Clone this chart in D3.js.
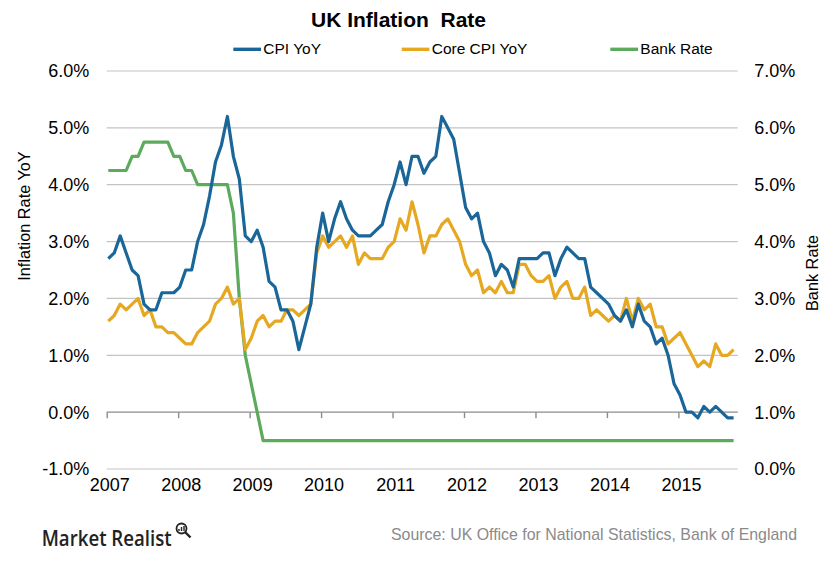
<!DOCTYPE html>
<html><head><meta charset="utf-8">
<script src="https://cdn.jsdelivr.net/npm/d3@7"></script>
<style>
body{margin:0;background:#fff}
svg text{font-family:"Liberation Sans",Arial,sans-serif}
</style>
</head><body>
<svg id="chart" width="836" height="562"></svg>
<script>
// ---- data (monthly, Jan 2007 .. Oct 2015) ----
const yearLabels = ["2007","2008","2009","2010","2011","2012","2013","2014","2015"];
const cpiYoY = [
  2.7,2.8,3.1,2.8,2.5,2.4,1.9,1.8,1.8,2.1,2.1,2.1,
  2.2,2.5,2.5,3.0,3.3,3.8,4.4,4.7,5.2,4.5,4.1,3.1,
  3.0,3.2,2.9,2.3,2.2,1.8,1.8,1.6,1.1,1.5,1.9,2.9,
  3.5,3.0,3.4,3.7,3.4,3.2,3.1,3.1,3.1,3.2,3.3,3.7,
  4.0,4.4,4.0,4.5,4.5,4.2,4.4,4.5,5.2,5.0,4.8,4.2,
  3.6,3.4,3.5,3.0,2.8,2.4,2.6,2.5,2.2,2.7,2.7,2.7,
  2.7,2.8,2.8,2.4,2.7,2.9,2.8,2.7,2.7,2.2,2.1,2.0,
  1.9,1.7,1.6,1.8,1.5,1.9,1.6,1.5,1.2,1.3,1.0,0.5,
  0.3,0.0,0.0,-0.1,0.1,0.0,0.1,0.0,-0.1,-0.1
];
const coreCpiYoY = [
  1.6,1.7,1.9,1.8,1.9,2.0,1.7,1.8,1.5,1.5,1.4,1.4,
  1.3,1.2,1.2,1.4,1.5,1.6,1.9,2.0,2.2,1.9,2.0,1.1,
  1.3,1.6,1.7,1.5,1.6,1.6,1.8,1.8,1.7,1.8,1.9,2.8,
  3.1,2.9,3.0,3.1,2.9,3.1,2.6,2.8,2.7,2.7,2.7,2.9,
  3.0,3.4,3.2,3.7,3.3,2.8,3.1,3.1,3.3,3.4,3.2,3.0,
  2.6,2.4,2.5,2.1,2.2,2.1,2.3,2.1,2.1,2.6,2.6,2.4,
  2.3,2.3,2.4,2.0,2.2,2.3,2.0,2.0,2.2,1.7,1.8,1.7,
  1.6,1.7,1.6,2.0,1.6,2.0,1.8,1.9,1.5,1.5,1.2,1.3,
  1.4,1.2,1.0,0.8,0.9,0.8,1.2,1.0,1.0,1.1
];
const bankRate = [
  5.25,5.25,5.25,5.25,5.5,5.5,5.75,5.75,5.75,5.75,5.75,5.5,
  5.5,5.25,5.25,5.0,5.0,5.0,5.0,5.0,5.0,4.5,3.0,2.0,
  1.5,1.0,0.5,0.5,0.5,0.5,0.5,0.5,0.5,0.5,0.5,0.5,
  0.5,0.5,0.5,0.5,0.5,0.5,0.5,0.5,0.5,0.5,0.5,0.5,
  0.5,0.5,0.5,0.5,0.5,0.5,0.5,0.5,0.5,0.5,0.5,0.5,
  0.5,0.5,0.5,0.5,0.5,0.5,0.5,0.5,0.5,0.5,0.5,0.5,
  0.5,0.5,0.5,0.5,0.5,0.5,0.5,0.5,0.5,0.5,0.5,0.5,
  0.5,0.5,0.5,0.5,0.5,0.5,0.5,0.5,0.5,0.5,0.5,0.5,
  0.5,0.5,0.5,0.5,0.5,0.5,0.5,0.5,0.5,0.5
];
const leftTicks = [-1,0,1,2,3,4,5,6];
const rightTicks = [0,1,2,3,4,5,6,7];
const seriesNames = ["CPI YoY","Core CPI YoY","Bank Rate"];
const seriesColors = ["#1a6699","#e6a821","#5cab5c"];

// ---- scales ----
const svg = d3.select("#chart");
const x = d3.scaleLinear().domain([0, cpiYoY.length - 1]).range([108.3, 733.6]);
const yL = d3.scaleLinear().domain([-1, 6]).range([469, 71]);
const yR = d3.scaleLinear().domain([0, 7]).range([469, 71]);
const gridX0 = x(-0.27), gridX1 = x(cpiYoY.length - 1 + 0.7);

// gridlines
svg.append("g").selectAll("line").data(leftTicks.filter(d => d !== 0)).join("line")
  .attr("x1", gridX0).attr("x2", gridX1)
  .attr("y1", d => yL(d)).attr("y2", d => yL(d))
  .attr("stroke", "#c3c3c3").attr("stroke-width", 1.2);

// x axis at 0%
const xAxis = d3.axisBottom(x)
  .tickValues(yearLabels.map((d, k) => k * 12 - 0.27))
  .tickSize(6).tickPadding(60.2)
  .tickFormat((d, k) => yearLabels[k]);
const gx = svg.append("g").attr("transform", `translate(0,${yL(0)})`).call(xAxis);
gx.select(".domain").remove();
gx.append("line").attr("x1", gridX0).attr("x2", gridX1).attr("stroke", "#8c8c8c").attr("stroke-width", 1.4);
gx.selectAll(".tick line").attr("stroke", "#8c8c8c").attr("stroke-width", 1.4);
gx.selectAll(".tick text").attr("font-size", 18).attr("fill", "#000").attr("dx", 2.5)
  .attr("font-family", "Liberation Sans, Arial, sans-serif");

// left axis labels
const fmt = v => v.toFixed(1) + "%";
svg.append("g").selectAll("text").data(leftTicks).join("text")
  .attr("x", 89.3).attr("y", d => yL(d)).attr("dy", "0.36em")
  .attr("text-anchor", "end").attr("font-size", 18).attr("fill", "#000")
  .text(fmt);
// right axis labels
svg.append("g").selectAll("text").data(rightTicks).join("text")
  .attr("x", 754.3).attr("y", d => yR(d)).attr("dy", "0.36em")
  .attr("text-anchor", "start").attr("font-size", 18).attr("fill", "#000")
  .text(fmt);

// lines
const lineL = d3.line().x((d, i) => x(i)).y(d => yL(d));
const lineR = d3.line().x((d, i) => x(i)).y(d => yR(d));
const paths = [
  {data: bankRate, gen: lineR, color: seriesColors[2]},
  {data: coreCpiYoY, gen: lineL, color: seriesColors[1]},
  {data: cpiYoY, gen: lineL, color: seriesColors[0]}
];
paths.forEach(p => {
  svg.append("path").datum(p.data).attr("d", p.gen)
    .attr("fill", "none").attr("stroke", p.color).attr("stroke-width", 3.2)
    .attr("stroke-linejoin", "round");
});

// title
svg.append("text").attr("x", 398.5).attr("y", 26.7).attr("text-anchor", "middle")
  .attr("font-size", 21).attr("font-weight", "bold").attr("fill", "#000")
  .style("white-space", "pre").text("UK Inflation  Rate");

// legend
const legendX = [233.3, 401.7, 610.3];
const lg = svg.append("g").selectAll("g").data(seriesNames).join("g")
  .attr("transform", (d, i) => `translate(${legendX[i]},0)`);
lg.append("line").attr("x1", 0).attr("x2", 27.7).attr("y1", 49.3).attr("y2", 49.3)
  .attr("stroke", (d, i) => seriesColors[i]).attr("stroke-width", 3.4);
lg.append("text").attr("x", 30).attr("y", 54.3).attr("font-size", 15.5).attr("fill", "#000")
  .text(d => d);

// axis titles
svg.append("text").attr("transform", "translate(30,216) rotate(-90)")
  .attr("text-anchor", "middle").attr("font-size", 16.3).attr("fill", "#000")
  .text("Inflation Rate YoY");
svg.append("text").attr("transform", "translate(818.3,273) rotate(-90)")
  .attr("text-anchor", "middle").attr("font-size", 16.3).attr("fill", "#000")
  .text("Bank Rate");

// source
svg.append("text").attr("x", 797).attr("y", 540).attr("text-anchor", "end")
  .attr("font-size", 15.9).attr("fill", "#8a8a8a")
  .text("Source: UK Office for National Statistics, Bank of England");

// logo
svg.append("text").attr("x", 41.7).attr("y", 546).attr("font-size", 21)
  .attr("fill", "#222").style("font-family", "'Open Sans', sans-serif")
  .attr("font-weight", 600)
  .attr("textLength", 130).attr("lengthAdjust", "spacingAndGlyphs")
  .text("Market Realist");
const icon = svg.append("g").attr("stroke", "#222").attr("fill", "none");
icon.append("circle").attr("cx", 181.5).attr("cy", 528.5).attr("r", 5).attr("stroke-width", 1.8);
icon.append("line").attr("x1", 185).attr("y1", 532).attr("x2", 190.5).attr("y2", 537.5).attr("stroke-width", 2.4);
icon.append("path").attr("d", "M179,531 L179,529 M181.5,531 L181.5,527 M184,531 L184,526").attr("stroke-width", 1.4);
</script>
</body></html>
